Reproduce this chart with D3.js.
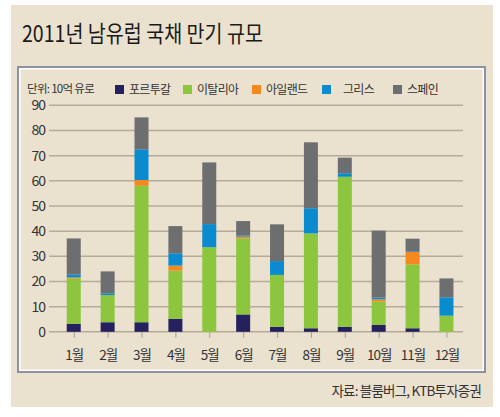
<!DOCTYPE html>
<html><head><meta charset="utf-8">
<script src="https://cdn.jsdelivr.net/npm/d3@7"></script>
<style>
html,body{margin:0;padding:0;background:#fff;}
svg{display:block;font-family:"Noto Sans CJK KR","Noto Sans",sans-serif;}
</style></head>
<body>
<script>
const months = ["1월","2월","3월","4월","5월","6월","7월","8월","9월","10월","11월","12월"];
const seriesNames = ["포르투갈","이탈리아","아일랜드","그리스","스페인"];
const portugal = [3.2, 3.8, 3.8, 5.2, 0, 6.9, 2.0, 1.4, 2.0, 2.7, 1.4, 0];
const italy    = [17.9, 10.8, 54.2, 19.1, 33.6, 30.2, 20.6, 37.7, 59.6, 9.3, 25.4, 6.4];
const ireland  = [0.5, 0, 2.3, 2.0, 0, 0.7, 0, 0, 0, 0.9, 4.9, 0];
const greece   = [1.2, 0.7, 12.2, 4.9, 9.2, 0.5, 5.5, 10.0, 1.4, 0.7, 0.3, 7.3];
const spain    = [14.3, 8.7, 12.7, 10.8, 24.5, 5.7, 14.6, 26.2, 6.2, 26.6, 5.0, 7.5];
const yTicks = [0,10,20,30,40,50,60,70,80,90];
const colors = ["#24215e","#8cc63e","#f5891f","#0a8bd0","#6d6e70"];

const W = 500, H = 417;
const svg = d3.select("body").append("svg").attr("width", W).attr("height", H);

// backgrounds
svg.append("rect").attr("x",11).attr("y",5).attr("width",482).attr("height",402).attr("fill","#ebe1cf");
svg.append("rect").attr("x",18).attr("y",67).attr("width",467).attr("height",305)
  .attr("fill","#ebe1cf").attr("stroke","#8a92a4").attr("stroke-width",2);
svg.append("rect").attr("x",19.8).attr("y",68.8).attr("width",463.4).attr("height",301.4)
  .attr("fill","none").attr("stroke","#ffffff").attr("stroke-width",1.4);

// title
svg.append("text").attr("x",22).attr("y",42).text("2011년 남유럽 국채 만기 규모")
  .attr("font-size",23).attr("fill","#1a1a1a").attr("font-weight",400)
  .attr("textLength",241).attr("lengthAdjust","spacingAndGlyphs");

const y = d3.scaleLinear().domain([0,90]).range([331.8,105.3]);
const x = d3.scalePoint().domain(months).range([56.8,463.4]).padding(0.5);
const bw = 14;

// grid
const gridG = svg.append("g");
gridG.selectAll("line").data(yTicks).join("line")
  .attr("x1",49).attr("x2",463).attr("y1",d=>y(d)).attr("y2",d=>y(d))
  .attr("stroke","#b6ab98").attr("stroke-width",1.5);

// y axis labels
const yAxis = d3.axisLeft(y).tickValues(yTicks).tickSize(0).tickPadding(3);
const yg = svg.append("g").attr("transform","translate(48,0)").call(yAxis);
yg.select(".domain").remove();
yg.selectAll("text").attr("font-size",14).attr("fill","#333").attr("font-family","'Noto Sans CJK KR',sans-serif")
  .attr("letter-spacing",-1);

// x axis
const xAxis = d3.axisBottom(x).tickSize(6).tickPadding(13);
const xg = svg.append("g").attr("transform","translate(0,331.8)").call(xAxis);
xg.select(".domain").remove();
xg.selectAll("line").attr("stroke","#a9a096").attr("stroke-width",1);
xg.selectAll("text").attr("font-size",13.5).attr("fill","#333").attr("font-family","'Noto Sans CJK KR',sans-serif")
  .attr("letter-spacing",-1);

// stacked bars
const table = months.map((m,i)=>({month:m, s0:portugal[i], s1:italy[i], s2:ireland[i], s3:greece[i], s4:spain[i]}));
const stack = d3.stack().keys(["s0","s1","s2","s3","s4"]);
const layers = stack(table);
svg.append("g").selectAll("g").data(layers).join("g").attr("fill",(d,i)=>colors[i])
  .selectAll("rect").data(d=>d).join("rect")
  .attr("x",d=>x(d.data.month)-bw/2).attr("width",bw)
  .attr("y",d=>y(d[1])).attr("height",d=>Math.max(0,y(d[0])-y(d[1])));

// legend
svg.append("text").attr("x",27).attr("y",93).text("단위: 10억 유로")
  .attr("font-size",11.5).attr("fill","#333").attr("letter-spacing",-0.7);
const legX = [115,183,252,322,393];
const lg = svg.append("g").selectAll("g").data(seriesNames).join("g")
  .attr("transform",(d,i)=>`translate(${legX[i]},85)`);
lg.append("rect").attr("width",9).attr("height",9).attr("fill",(d,i)=>colors[i]);
lg.append("text").attr("x",(d,i)=> i===3 ? 21 : 14).attr("y",8.8).text(d=>d)
  .attr("font-size",12).attr("fill","#333").attr("letter-spacing",-0.7);

// source
svg.append("text").attr("x",481).attr("y",396).attr("text-anchor","end")
  .text("자료: 블룸버그, KTB투자증권").attr("font-size",13.5).attr("fill","#333").attr("letter-spacing",-0.8);
</script>
</body></html>
